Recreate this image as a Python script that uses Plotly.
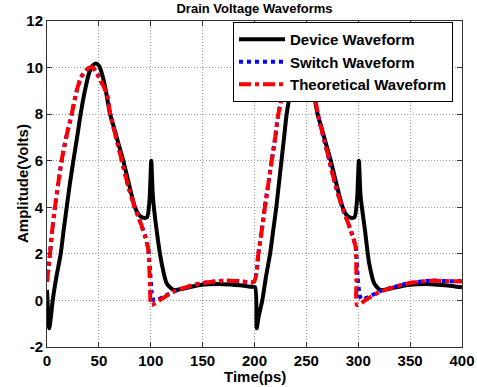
import plotly.graph_objects as go

# ---------------- data ----------------
device_t = [0, 2.2, 4, 5.5, 9, 13.2, 16, 19, 22, 25.4, 29, 32.4, 36.5, 40.8, 44, 47.2,
            50.5, 53.5, 56, 60.7, 65, 70, 73.5, 79, 84.8, 89, 93, 96.5, 98.8, 100.5,
            102, 105.7, 110.5, 115.4, 121.8, 130, 147.5, 170, 186, 195.7, 200.5,
            202.1, 204, 207.5, 211, 215, 218, 221, 223.5, 226, 228.5, 231, 235, 240,
            244, 247.2, 250.5, 253.5, 256, 260.7, 265, 270, 273.5, 279, 285, 289, 293,
            296.5, 298.8, 300.6, 302.2, 306.5, 310.5, 315.4, 321, 330, 347.5, 370, 386, 400]
device_v = [0.45, -1.2, -0.6, 0.0, 1.0, 2.0, 3.0, 4.0, 5.0, 6.0, 7.0, 8.0, 9.0, 9.8, 10.08, 10.17,
            10.05, 9.65, 9.17, 8.03, 7.35, 6.55, 6.0, 5.0, 4.0, 3.65, 3.55, 3.58, 4.3, 6.0,
            4.5, 3.0, 1.6, 0.73, 0.45, 0.5, 0.66, 0.7, 0.65, 0.59, 0.57,
            -1.2, -0.7, 0.0, 1.0, 2.0, 3.0, 4.0, 5.0, 6.0, 7.0, 8.0, 9.0, 9.8,
            10.08, 10.17, 10.05, 9.65, 9.17, 8.03, 7.35, 6.55, 6.0, 5.0, 4.0, 3.65, 3.55,
            3.58, 4.3, 6.0, 4.5, 3.0, 1.6, 0.73, 0.45, 0.5, 0.66, 0.7, 0.64, 0.56]

switch_t = [0, 2.9, 5, 7.7, 10.8, 14.1, 18.5, 23.8, 28.6, 33, 38.2, 43, 47, 51, 57.5, 61,
            68.7, 72, 78, 84.8, 88, 92, 95, 97.6, 99.5, 101, 103, 105.7, 112, 121.7, 135,
            147.5, 170, 185, 199.5, 203.7, 207, 210, 213.3, 216.6, 220, 223, 228, 233,
            238.2, 243, 247, 251, 257.5, 261, 268.7, 272, 278, 284.8, 288, 292, 295,
            297.5, 299.5, 301.5, 303.3, 310, 321, 335, 347.5, 370, 385, 400]
switch_v = [0.8, 2.0, 3.0, 4.0, 5.0, 6.0, 7.0, 8.0, 9.0, 9.6, 9.9, 10.03, 9.85, 9.5, 8.9, 8.0,
            6.62, 6.03, 4.95, 3.96, 3.6, 3.1, 2.7, 2.2, 1.2, 0.3, 0.0, 0.0, 0.15, 0.37, 0.58,
            0.73, 0.85, 0.83, 0.8, 2.0, 3.0, 4.0, 5.0, 6.0, 7.0, 8.0, 9.0, 9.6,
            9.9, 10.03, 9.85, 9.5, 8.9, 8.0, 6.62, 6.03, 4.95, 3.96, 3.6, 3.1, 2.7,
            2.3, 1.0, 0.2, 0.05, 0.15, 0.4, 0.58, 0.73, 0.85, 0.83, 0.82]

theory_t = [0, 2.9, 5, 7.7, 10.8, 14.1, 18.5, 23.8, 28.6, 33, 38.2, 43, 47, 51, 57.5, 61,
            68.7, 72, 78, 84.8, 88, 92, 95, 97.6, 99.3, 100.6, 110, 121.7, 135,
            147.5, 170, 185, 199.5, 203.7, 207, 210, 213.3, 216.6, 220, 223, 228, 233,
            238.2, 243, 247, 251, 257.5, 261, 268.7, 272, 278, 284.8, 288, 292, 295,
            297.5, 298.2, 298.8, 308, 321, 335, 347.5, 370, 385, 400]
theory_v = [0.8, 2.0, 3.0, 4.0, 5.0, 6.0, 7.0, 8.0, 9.0, 9.6, 9.9, 10.03, 9.85, 9.5, 8.9, 8.0,
            6.62, 6.03, 4.95, 3.96, 3.6, 3.1, 2.7, 2.2, 0.6, -0.2, 0.05, 0.37, 0.58,
            0.73, 0.85, 0.83, 0.8, 2.0, 3.0, 4.0, 5.0, 6.0, 7.0, 8.0, 9.0, 9.6,
            9.9, 10.03, 9.85, 9.5, 8.9, 8.0, 6.62, 6.03, 4.95, 3.96, 3.6, 3.1, 2.7,
            2.3, 0.8, -0.2, 0.05, 0.37, 0.58, 0.73, 0.85, 0.83, 0.82]

x_ticks = [0, 50, 100, 150, 200, 250, 300, 350, 400]
y_ticks = [-2, 0, 2, 4, 6, 8, 10, 12]

FONT = "Arial, 'Liberation Sans', sans-serif"

fig = go.Figure()
fig.add_trace(go.Scatter(x=device_t, y=device_v, mode="lines", name="Device Waveform",
                         line=dict(color="#000000", width=4, shape="spline", smoothing=0.6)))
fig.add_trace(go.Scatter(x=switch_t, y=switch_v, mode="lines", name="Switch Waveform",
                         line=dict(color="#0000FF", width=4, dash="dot", shape="spline", smoothing=0.6)))
fig.add_trace(go.Scatter(x=theory_t, y=theory_v, mode="lines", name="Theoretical Waveform",
                         line=dict(color="#FF0000", width=4, dash="dashdot", shape="spline", smoothing=0.6)))

L, R, T, B = 47, 15, 21, 40
W, H = 477, 387
pw, ph = W - L - R, H - T - B

axis_common = dict(showline=True, linecolor="#333333", linewidth=1, mirror="ticks",
                   ticks="inside", ticklen=5, tickcolor="#333333", automargin=False,
                   showgrid=True, gridcolor="#9a9a9a", gridwidth=1, griddash="1px,2px",
                   zeroline=False,
                   tickfont=dict(family=FONT, size=15, color="#000000", weight="bold"))

fig.update_layout(
    width=W, height=H,
    margin=dict(l=L, r=R, t=T, b=B, pad=0, autoexpand=False),
    paper_bgcolor="white", plot_bgcolor="white",
    title=dict(text="Drain Voltage Waveforms", x=0.5, xref="paper", xanchor="center",
               y=1 - 8 / H, yref="container", yanchor="middle", automargin=False,
               font=dict(family=FONT, size=13, color="#000000", weight="bold")),
    xaxis=dict(range=[0, 400], tickvals=x_ticks, ticktext=[str(v) for v in x_ticks], **axis_common),
    yaxis=dict(range=[-2, 12], tickvals=y_ticks, ticktext=[str(v) for v in y_ticks], **axis_common),
    showlegend=True,
    legend=dict(x=(233 - L) / pw, y=(H - B - 22) / ph, xanchor="left", yanchor="top",
                bgcolor="white", bordercolor="#000000", borderwidth=1,
                itemwidth=46, tracegroupgap=0,
                font=dict(family=FONT, size=15, color="#000000", weight="bold")),
    annotations=[
        dict(text="Time(ps)", xref="paper", yref="paper", x=0.5, y=(H - B - 376) / ph,
             xanchor="center", yanchor="middle", showarrow=False,
             font=dict(family=FONT, size=15, color="#000000", weight="bold")),
        dict(text="Amplitude(Volts)", xref="paper", yref="paper", x=(22 - L) / pw, y=0.5,
             xanchor="center", yanchor="middle", textangle=-90, showarrow=False,
             font=dict(family=FONT, size=15, color="#000000", weight="bold")),
    ],
)

fig.write_html("out.html", config={"displayModeBar": False},
               post_script="document.body.style.margin='0px';document.body.style.padding='0px';")
